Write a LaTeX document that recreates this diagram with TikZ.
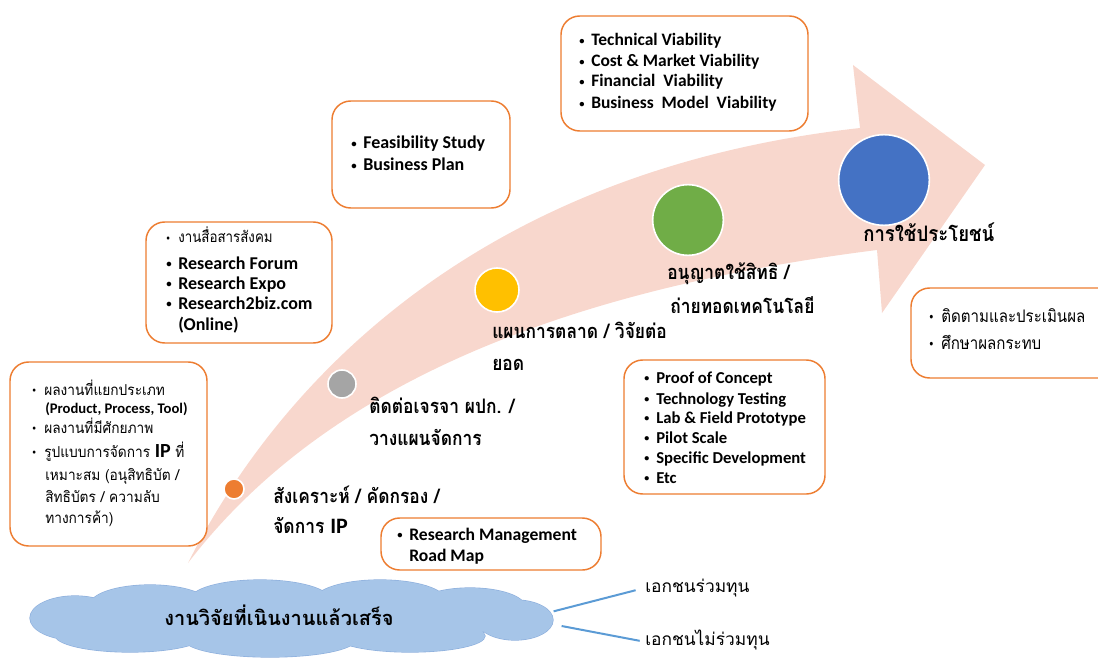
\documentclass[tikz,border=0pt]{standalone}
\usepackage{fontspec}
\setmainfont{Carlito}
\newfontfamily\thai[Script=Thai]{Loma}
\newfontfamily\thaib[Script=Thai, FakeStretch=0.87]{Loma}
\newfontfamily\thais[Script=Thai, FakeStretch=0.91]{Loma}
\definecolor{pk}{RGB}{248,215,205}
\definecolor{bo}{RGB}{237,125,49}
\definecolor{cgray}{RGB}{165,165,165}
\definecolor{cyel}{RGB}{255,192,0}
\definecolor{cgrn}{RGB}{112,173,71}
\definecolor{cblu}{RGB}{68,114,196}
\definecolor{lnb}{RGB}{91,155,213}
\definecolor{cldfill}{RGB}{166,197,232}
\definecolor{cldline}{RGB}{140,174,220}
\newcommand\bul{\makebox[9pt][l]{\raisebox{0.15ex}{\scalebox{0.6}{\textbullet}}}}
\begin{document}
\begin{tikzpicture}[x=0.75pt,y=-0.75pt,
  box/.style={draw=bo, line width=1.1pt, rounded corners=14pt, fill=white},
  tl/.style={anchor=base west, inner sep=0pt, text=black},
  dot/.style={circle, draw=white, line width=1.2pt, inner sep=0pt},
  conn/.style={draw=lnb, line width=1.5pt},
  lb/.style={tl, font=\bfseries\fontsize{13.5}{16}\selectfont},
  lb4/.style={tl, font=\bfseries\fontsize{13.1}{15}\selectfont},
  lb5/.style={tl, font=\bfseries\fontsize{12.5}{14}\selectfont},
  lb7/.style={tl, font=\bfseries\fontsize{13.2}{15}\selectfont},
  th1/.style={tl, font=\thais\fontsize{11.3}{13}\selectfont},
  th2/.style={tl, font=\thaib\fontsize{11.5}{13}\selectfont},
  thl/.style={tl, font=\thaib\bfseries\fontsize{15}{18}\selectfont},
  thm/.style={tl, font=\thaib\fontsize{13}{16}\selectfont},
  thr/.style={tl, font=\thai\fontsize{13}{16}\selectfont}]
\useasboundingbox (0,0) rectangle (1098,659);
\clip (0,0) rectangle (1098,659);
% big arrow
\fill[pk] (188,563) .. controls (280,380) and (480,170) .. (860,128)
  -- (853,65) -- (985,165) -- (882,313) -- (877,250)
  .. controls (480,300) and (290,430) .. (188,563) -- cycle;
% circles
\node[dot, fill=bo, minimum size=15pt] (c1) at (234,489) {};
\node[dot, fill=cgray, minimum size=21pt] (c2) at (342,384) {};
\node[dot, fill=cyel, minimum size=33pt] (c3) at (497,290) {};
\node[dot, fill=cgrn, minimum size=53pt] (c4) at (688,220) {};
\node[dot, fill=cblu, minimum size=68pt] (c5) at (884,180) {};
% boxes
\draw[box] (10,362) rectangle (207,546);
\draw[box] (146,222) rectangle (332,343);
\draw[box] (332,101) rectangle (510,208);
\draw[box] (561,16) rectangle (808,131);
\draw[box] (624,360) rectangle (825,494);
\draw[box] (911,288) rectangle (1120,378);
\draw[box] (381,518) rectangle (601,570);
% box 1
\node[th1] (a1) at (32,395) {\bul ผลงานที่แยกประเภท};
\node[tl, font=\bfseries\fontsize{11}{13}\selectfont] (a2) at (45,413) {(Product, Process, Tool)};
\node[th1] (a3) at (32,433) {\bul ผลงานที่มีศักยภาพ};
\node[th1] (a4) at (32,457) {\bul รูปแบบการจัดการ {\normalfont\bfseries\fontsize{15}{15}\selectfont IP} ที่};
\node[th1] (a5) at (45,480) {เหมาะสม (อนุสิทธิบัต /};
\node[th1] (a6) at (45,502) {สิทธิบัตร / ความลับ};
\node[th1] (a7) at (45,523) {ทางการค้า)};
% box 2
\node[th2] (b1) at (166,243) {\bul งานสื่อสารสังคม};
\node[lb] (b2) at (166,269) {\bul Research Forum};
\node[lb] (b3) at (166,289) {\bul Research Expo};
\node[lb] (b4) at (166,309) {\bul Research2biz.com};
\node[lb] (b5) at (178,330) {(Online)};
% box 3
\node[lb] (f1) at (351,149) {\bul Feasibility Study};
\node[lb] (f2) at (351,171) {\bul Business Plan};
% box 4
\node[lb4] (v1) at (579,46) {\bul Technical Viability};
\node[lb4] (v2) at (579,67) {\bul Cost \& Market Viability};
\node[lb4] (v3) at (579,87) {\bul Financial\ \ Viability};
\node[lb4] (v4) at (579,109) {\bul Business\ \ Model\ \ Viability};
% box 5
\node[lb5] (p1) at (644,383) {\bul Proof of Concept};
\node[lb5] (p2) at (644,404) {\bul Technology Testing};
\node[lb5] (p3) at (644,423) {\bul Lab \& Field Prototype};
\node[lb5] (p4) at (644,443) {\bul Pilot Scale};
\node[lb5] (p5) at (644,463) {\bul Specific Development};
\node[lb5] (p6) at (644,483) {\bul Etc};
% box 6
\node[thm] (m1) at (929,322) {\bul ติดตามและประเมินผล};
\node[thm] (m2) at (929,349) {\bul ศึกษาผลกระทบ};
% box 7
\node[lb7] (r1) at (397,540) {\bul Research Management};
\node[lb7] (r2) at (409,561) {Road Map};
% arrow labels
\node[thl] (s1) at (273,503) {สังเคราะห์ / คัดกรอง /};
\node[thl] (s2) at (273,533) {จัดการ {\normalfont\bfseries\fontsize{16.5}{16}\selectfont IP}};
\node[thl] (s3) at (369,413) {ติดต่อเจรจา ผปก. /};
\node[thl] (s4) at (369,445) {วางแผนจัดการ};
\node[thl] (s5) at (492,338) {แผนการตลาด / วิจัยต่อ};
\node[thl] (s6) at (492,370) {ยอด};
\node[thl] (s7) at (667,279) {อนุญาตใช้สิทธิ /};
\node[thl] (s8) at (670,313) {ถ่ายทอดเทคโนโลยี};
\node[tl, font=\thaib\bfseries\fontsize{16}{20}\selectfont] (s9) at (863,241) {การใช้ประโยชน์};
% cloud (union of puffs)
\def\puffs{75/618/33.75/16.5, 150/605/45/15, 260/600/52.5/15, 380/600/48.75/15,
  470/607/41.25/14.25, 515/620/28.5/15, 130/635/56.25/12.75, 270/640/63.75/12.75,
  410/636/56.25/12, 290/618/172.5/18.75}
\foreach \cx/\cy/\rx/\ry in \puffs
  \draw[cldline, line width=0.9pt] (\cx,\cy) ellipse [x radius=\rx pt, y radius=\ry pt];
\foreach \cx/\cy/\rx/\ry in \puffs
  \fill[cldfill] (\cx,\cy) ellipse [x radius=\rx pt, y radius=\ry pt];
\node[minimum width=392pt, minimum height=58pt, inner sep=0pt] (cl) at (292,618) {};
\node[tl, font=\thai\bfseries\fontsize{15}{18}\selectfont] (ct) at (164,625) {งานวิจัยที่เนินงานแล้วเสร็จ};
% right labels
\node[thr] (e1) at (645,592) {เอกชนร่วมทุน};
\node[thr] (e2) at (645,645) {เอกชนไม่ร่วมทุน};
\draw[conn] ([yshift=5pt]cl.east) -- ([xshift=-7pt,yshift=-2pt]e1.west);
\draw[conn] ([xshift=6pt,yshift=-6pt]cl.east) -- ([xshift=-4pt,yshift=-1pt]e2.west);
\end{tikzpicture}
\end{document}
